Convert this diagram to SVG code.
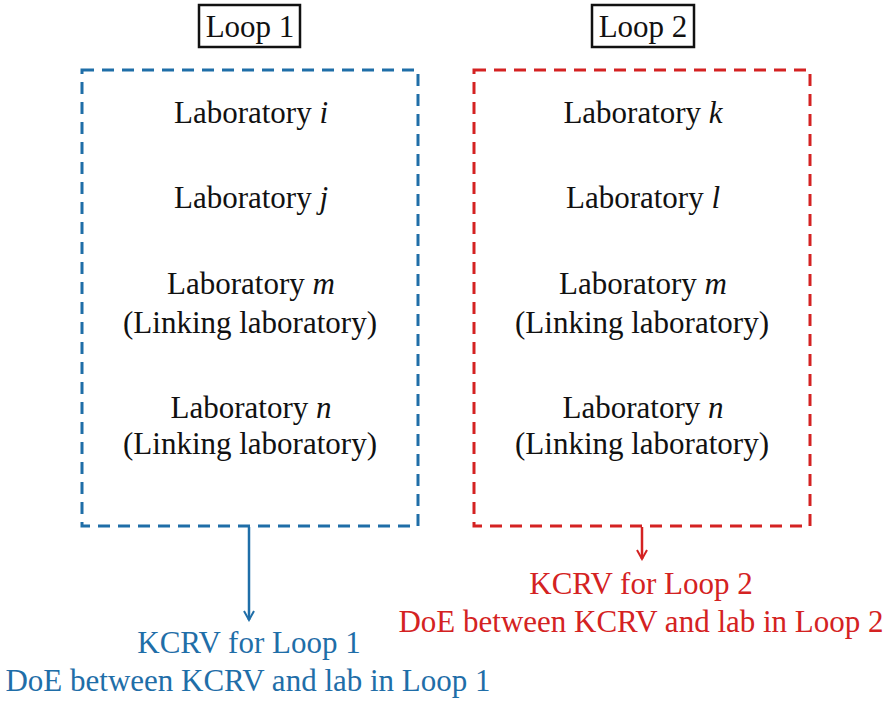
<svg xmlns="http://www.w3.org/2000/svg" width="885" height="704" viewBox="0 0 885 704">
<style>
text{font-family:"Liberation Serif","Times New Roman",Times,serif;font-size:31px;text-anchor:middle}
.k{fill:#111}
.b{fill:#1f6ea8}
.r{fill:#d42222}
.lbl{fill:none;stroke:#111;stroke-width:2.5}
.dash{fill:none;stroke-width:3;stroke-dasharray:12 8}
</style>
<defs>
<marker id="ab" viewBox="0 0 12 12" refX="10" refY="6" markerWidth="12" markerHeight="12" markerUnits="userSpaceOnUse" orient="auto"><path d="M1,1 L10,6 L1,11" fill="none" stroke="#1f6ea8" stroke-width="2"/></marker>
<marker id="ar" viewBox="0 0 12 12" refX="10" refY="6" markerWidth="12" markerHeight="12" markerUnits="userSpaceOnUse" orient="auto"><path d="M1,1 L10,6 L1,11" fill="none" stroke="#d42222" stroke-width="2"/></marker>
</defs>
<rect width="885" height="704" fill="#fff"/>
<g id="loop1-label">
<rect class="lbl" x="199" y="5" width="101" height="42"/>
<text class="k" x="250" y="37">Loop 1</text>
</g>
<g id="loop2-label">
<rect class="lbl" x="592" y="5" width="102" height="42"/>
<text class="k" x="643" y="37">Loop 2</text>
</g>
<g id="loop1">
<rect class="dash" stroke="#1f6ea8" x="82" y="70" width="336" height="456"/>
<text class="k" x="251" y="123">Laboratory <tspan font-style="italic">i</tspan></text>
<text class="k" x="251" y="208">Laboratory <tspan font-style="italic">j</tspan></text>
<text class="k" x="251" y="294">Laboratory <tspan font-style="italic">m</tspan></text>
<text class="k" x="250" y="333">(Linking laboratory)</text>
<text class="k" x="251" y="418">Laboratory <tspan font-style="italic">n</tspan></text>
<text class="k" x="250" y="454">(Linking laboratory)</text>
</g>
<g id="loop2">
<rect class="dash" stroke="#d42222" x="474" y="70" width="336" height="456"/>
<text class="k" x="643" y="123">Laboratory <tspan font-style="italic">k</tspan></text>
<text class="k" x="643" y="208">Laboratory <tspan font-style="italic">l</tspan></text>
<text class="k" x="643" y="294">Laboratory <tspan font-style="italic">m</tspan></text>
<text class="k" x="642" y="333">(Linking laboratory)</text>
<text class="k" x="643" y="418">Laboratory <tspan font-style="italic">n</tspan></text>
<text class="k" x="642" y="454">(Linking laboratory)</text>
</g>
<g id="result1">
<text class="b" x="249" y="653">KCRV for Loop 1</text>
<text class="b" x="248" y="691">DoE between KCRV and lab in Loop 1</text>
</g>
<g id="result2">
<text class="r" x="641" y="594">KCRV for Loop 2</text>
<text class="r" x="641" y="632">DoE between KCRV and lab in Loop 2</text>
</g>
<g id="connectors">
<line x1="249" y1="527" x2="249" y2="620" stroke="#1f6ea8" stroke-width="2.5" marker-end="url(#ab)"/>
<line x1="642" y1="527" x2="642" y2="559" stroke="#d42222" stroke-width="2.5" marker-end="url(#ar)"/>
</g>
</svg>
